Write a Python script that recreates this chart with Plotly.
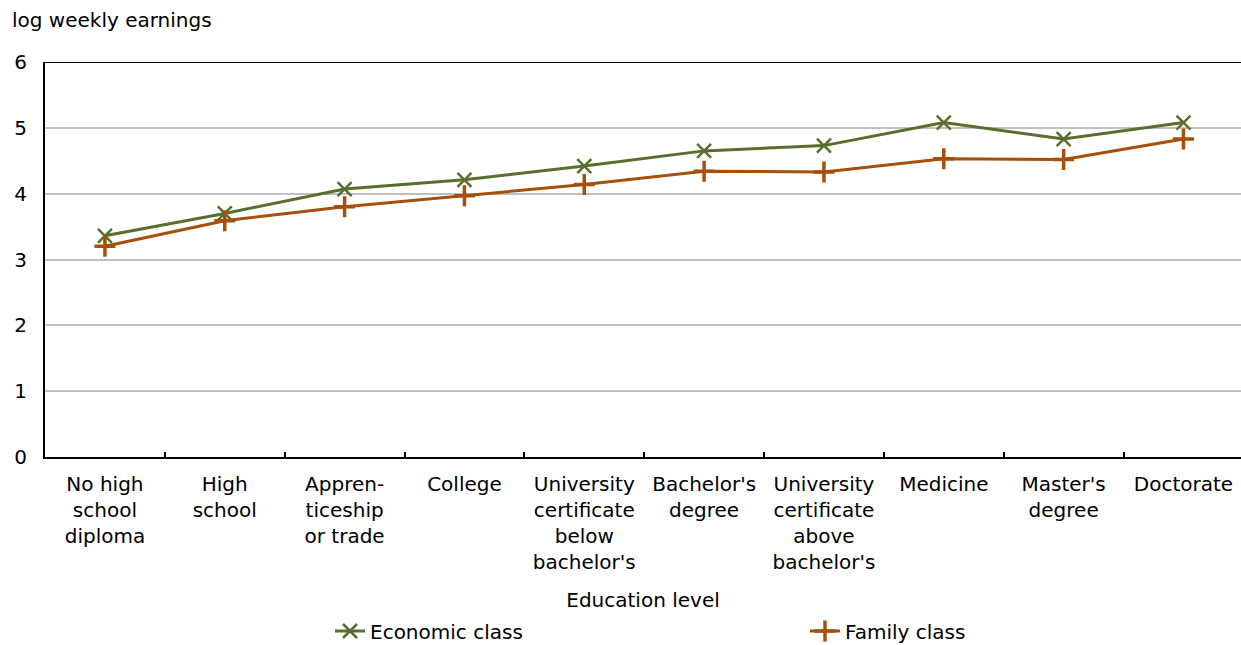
import plotly.graph_objects as go

categories = ["No high<br>school<br>diploma", "High<br>school", "Appren-<br>ticeship<br>or trade", "College",
              "University<br>certificate<br>below<br>bachelor's", "Bachelor's<br>degree",
              "University<br>certificate<br>above<br>bachelor's", "Medicine", "Master's<br>degree", "Doctorate"]
economic = [3.36, 3.70, 4.07, 4.21, 4.42, 4.65, 4.73, 5.08, 4.83, 5.08]
family = [3.20, 3.59, 3.80, 3.97, 4.14, 4.34, 4.33, 4.53, 4.52, 4.83]

GREEN = "#586e2d"
BROWN = "#a54f0a"
FONT = "Verdana, DejaVu Sans, sans-serif"
FS = 20

fig = go.Figure()
fig.add_trace(go.Scatter(x=categories, y=economic, name="Economic class", mode="lines+markers",
                         line=dict(color=GREEN, width=3), legend="legend",
                         marker=dict(symbol="x-thin", size=14, line=dict(color=GREEN, width=2.5))))
fig.add_trace(go.Scatter(x=categories, y=family, name="Family class", mode="lines+markers",
                         line=dict(color=BROWN, width=3), legend="legend2",
                         marker=dict(symbol="cross-thin", size=15, line=dict(color=BROWN, width=3.5))))

fig.add_shape(type="line", xref="paper", yref="y", x0=0, x1=1, y0=6, y1=6,
              line=dict(color="black", width=2), layer="below")

leg_common = dict(orientation="h", xref="container", yref="container", y=14/645,
                  xanchor="left", yanchor="middle", font=dict(size=FS), bgcolor="rgba(0,0,0,0)")

fig.update_layout(
    width=1241, height=645,
    margin=dict(l=45, r=0, t=62, b=188),
    paper_bgcolor="white", plot_bgcolor="white",
    font=dict(family=FONT, size=FS, color="black"),
    showlegend=True,
    legend=dict(x=330/1241, **leg_common),
    legend2=dict(x=805/1241, **leg_common),
    xaxis=dict(type="category", range=[-0.5, 9.48], showline=True, linecolor="black", linewidth=2,
               ticks="inside", tickson="boundaries", ticklen=5, tickwidth=2, tickcolor="black",
               showgrid=False, tickfont=dict(size=FS), ticklabelstandoff=8,
               title=dict(text="Education level", font=dict(size=FS), standoff=20)),
    yaxis=dict(range=[0, 6], dtick=1, showline=True, linecolor="black", linewidth=2,
               showgrid=True, gridcolor="#c0c0c0", gridwidth=2, ticks="", zeroline=False,
               tickfont=dict(size=FS), ticklabelstandoff=12),
)
fig.add_annotation(text="log weekly earnings", xref="paper", yref="paper", x=-45/1196, y=1.0,
                   yshift=42, xshift=10, xanchor="left", yanchor="middle", showarrow=False,
                   font=dict(size=FS))

fig.write_html("out.html")
